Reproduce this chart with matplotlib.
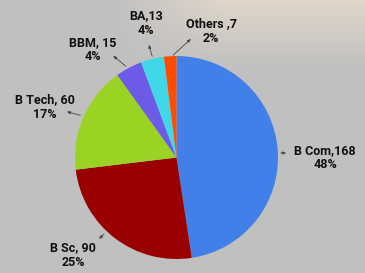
import numpy as np
import matplotlib.pyplot as plt

# 数据
labels = ['B Com', 'B Sc', 'B Tech', 'BBM', 'BA', 'Others ']
values = [168, 90, 60, 15, 13, 7]
seps = [',', ', ', ', ', ', ', ',', ',']
colors = ['#4080e8', '#990000', '#9bd325', '#6b5be6', '#40d8e8', '#ff4d00']

# 标签位置 (像素坐标, 文本中心) 和引线起点
text_pos = [(325, 158), (73, 255), (45, 107), (93, 50), (146, 23), (211, 31)]
line_start = [(278, 153), (106, 232), (83, 116), (128, 68), (153, 59), (171, 57)]
line_end = [(289, 153), (97, 241), (64, 111), (111, 54), (148, 42), (193, 37)]

W, H = 365, 273
fig = plt.figure(figsize=(W / 100, H / 100), dpi=100)
ax = fig.add_axes([0, 0, 1, 1])

# 背景: 灰色, 顶部偏亮
yy, xx = np.mgrid[0:H, 0:W]
base = np.array([192, 192, 192]) / 255
top = np.array([224, 214, 202]) / 255
t = np.clip(1 - yy / 70.0, 0, 1)[..., None] * np.clip((xx - 110) / 110.0, 0, 1)[..., None]
bg = base * (1 - t) + top * t
ax.imshow(bg, extent=(0, W, 0, H), origin='upper', zorder=0, aspect='auto')

cx, cy, r = 176.5, H - 157.5, 101.5
ax.pie(values, colors=colors, startangle=90, counterclock=False,
       center=(cx, cy), radius=r, frame=True,
       wedgeprops=dict(linewidth=0))
ax.set_xlim(0, W)
ax.set_ylim(0, H)
ax.set_aspect('equal')
ax.axis('off')

total = sum(values)
for lab, v, s, tp, ls, le in zip(labels, values, seps, text_pos, line_start, line_end):
    pct = round(v / total * 100)
    ax.annotate('', xy=(le[0], H - le[1]), xytext=(ls[0], H - ls[1]),
                arrowprops=dict(arrowstyle='-|>,head_length=0.2,head_width=0.08',
                                color='#444444', lw=0.6))
    ax.text(tp[0], H - tp[1], f'{lab}{s}{v}\n{pct}%', ha='center', va='center',
            fontsize=9, fontweight='bold', family='Roboto', color='#111111',
            linespacing=1.1)

plt.savefig('out.png', dpi=100)
